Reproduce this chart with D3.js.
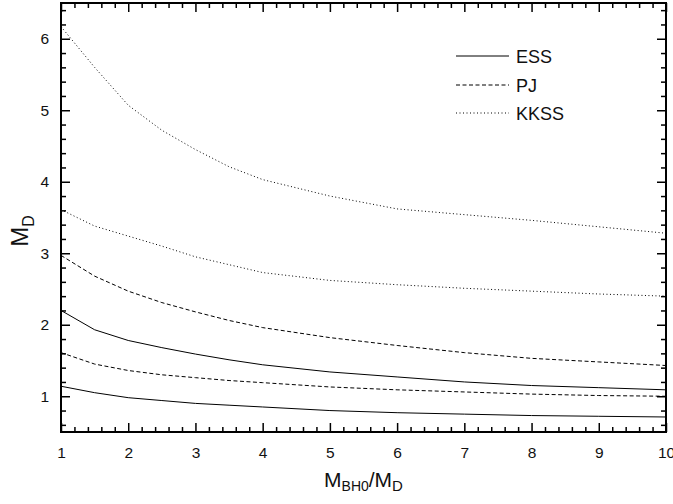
<!DOCTYPE html>
<html>
<head>
<meta charset="utf-8">
<script src="https://cdn.jsdelivr.net/npm/d3@7/dist/d3.min.js"></script>
<style>
  html, body { margin: 0; padding: 0; background: #fff; }
  svg { display: block; }
  text { font-family: "Liberation Sans", Arial, Helvetica, sans-serif; fill: #111; }
</style>
</head>
<body>
<svg id="chart" width="673" height="504"></svg>
<script>
// ---- data ----
const xs = [1, 1.5, 2, 2.5, 3, 3.5, 4, 5, 6, 7, 8, 9, 10];
const essLower  = [1.14, 1.05, 0.98, 0.94, 0.90, 0.875, 0.85, 0.80, 0.77, 0.75, 0.73, 0.72, 0.71];
const essUpper  = [2.20, 1.93, 1.78, 1.68, 1.59, 1.51, 1.44, 1.34, 1.27, 1.20, 1.15, 1.12, 1.09];
const pjLower   = [1.61, 1.45, 1.36, 1.30, 1.26, 1.22, 1.19, 1.13, 1.09, 1.06, 1.03, 1.01, 1.00];
const pjUpper   = [2.97, 2.68, 2.47, 2.31, 2.18, 2.06, 1.96, 1.82, 1.71, 1.61, 1.53, 1.48, 1.43];
const kkssLower = [3.61, 3.38, 3.24, 3.10, 2.95, 2.84, 2.73, 2.62, 2.56, 2.51, 2.47, 2.43, 2.40];
const kkssUpper = [6.17, 5.60, 5.07, 4.72, 4.45, 4.21, 4.03, 3.80, 3.62, 3.54, 3.46, 3.37, 3.28];
const xTicks = [1, 2, 3, 4, 5, 6, 7, 8, 9, 10];
const yTicks = [1, 2, 3, 4, 5, 6];
const legendNames = ["ESS", "PJ", "KKSS"];

// ---- layout ----
const svg = d3.select("#chart");
const L = 61, R = 666, T = 3, B = 432;
const x = d3.scaleLinear().domain([1, 10]).range([L, R]);
const y = d3.scaleLinear().domain([0.5, 6.5]).range([B, T]);

const styles = {
  ESS:  { dash: null },
  PJ:   { dash: "4,2.5" },
  KKSS: { dash: "1,2.5" }
};

const series = [
  { name: "ESS", vals: essLower },
  { name: "ESS", vals: essUpper },
  { name: "PJ", vals: pjLower },
  { name: "PJ", vals: pjUpper },
  { name: "KKSS", vals: kkssLower },
  { name: "KKSS", vals: kkssUpper }
];

const line = d3.line().x((d, i) => x(xs[i])).y(d => y(d));

series.forEach(s => {
  svg.append("path")
    .datum(s.vals)
    .attr("d", line)
    .attr("fill", "none")
    .attr("stroke", "#000")
    .attr("stroke-width", 1)
    .attr("stroke-dasharray", styles[s.name].dash);
});

// ---- axes ----
const minorX = d3.range(1, 10.001, 0.2).filter(v => Math.abs(v - Math.round(v)) > 1e-6);
const minorY = d3.range(0.6, 6.5, 0.2).filter(v => Math.abs(v - Math.round(v)) > 1e-6);

function styleAxis(g) {
  g.select(".domain").remove();
  g.selectAll(".tick line").attr("stroke", "#000").attr("stroke-width", 1.5);
  g.selectAll(".tick text").attr("font-size", 15.5).attr("fill", "#111")
    .attr("font-family", '"Liberation Sans", Arial, sans-serif');
}

// bottom
svg.append("g").attr("transform", `translate(0,${B})`)
  .call(d3.axisBottom(x).tickValues(xTicks).tickSize(-9).tickPadding(15).tickFormat(d3.format("d")))
  .call(styleAxis);
svg.append("g").attr("transform", `translate(0,${B})`)
  .call(d3.axisBottom(x).tickValues(minorX).tickSize(-5).tickFormat(""))
  .call(styleAxis);
// top
svg.append("g").attr("transform", `translate(0,${T})`)
  .call(d3.axisTop(x).tickValues(xTicks).tickSize(-9).tickFormat(""))
  .call(styleAxis);
svg.append("g").attr("transform", `translate(0,${T})`)
  .call(d3.axisTop(x).tickValues(minorX).tickSize(-5).tickFormat(""))
  .call(styleAxis);
// left
svg.append("g").attr("transform", `translate(${L},0)`)
  .call(d3.axisLeft(y).tickValues(yTicks).tickSize(-9).tickPadding(12).tickFormat(d3.format("d")))
  .call(styleAxis);
svg.append("g").attr("transform", `translate(${L},0)`)
  .call(d3.axisLeft(y).tickValues(minorY).tickSize(-5).tickFormat(""))
  .call(styleAxis);
// right
svg.append("g").attr("transform", `translate(${R},0)`)
  .call(d3.axisRight(y).tickValues(yTicks).tickSize(-9).tickFormat(""))
  .call(styleAxis);
svg.append("g").attr("transform", `translate(${R},0)`)
  .call(d3.axisRight(y).tickValues(minorY).tickSize(-5).tickFormat(""))
  .call(styleAxis);

// frame
svg.append("rect")
  .attr("x", L).attr("y", T).attr("width", R - L).attr("height", B - T)
  .attr("fill", "none").attr("stroke", "#000").attr("stroke-width", 2);

// ---- axis titles ----
const xt = svg.append("text")
  .attr("x", (L + R) / 2).attr("y", 487)
  .attr("text-anchor", "middle").attr("font-size", 21);
xt.append("tspan").text("M");
xt.append("tspan").attr("font-size", 14).attr("dy", 4).text("BH0");
xt.append("tspan").attr("dy", -4).text("/M");
xt.append("tspan").attr("font-size", 15).attr("dy", 4).text("D");

const yt = svg.append("text")
  .attr("transform", "translate(28,231) rotate(-90)")
  .attr("text-anchor", "middle").attr("font-size", 24);
yt.append("tspan").text("M");
yt.append("tspan").attr("font-size", 16).attr("dy", 6).text("D");

// ---- legend ----
const legY = [56, 85, 113];
legendNames.forEach((n, i) => {
  svg.append("line")
    .attr("x1", 456).attr("x2", 509)
    .attr("y1", legY[i]).attr("y2", legY[i])
    .attr("stroke", "#000").attr("stroke-width", 1)
    .attr("stroke-dasharray", styles[n].dash);
  svg.append("text")
    .attr("x", 516).attr("y", legY[i] + 6.5)
    .attr("font-size", 18).text(n);
});
</script>
</body>
</html>
